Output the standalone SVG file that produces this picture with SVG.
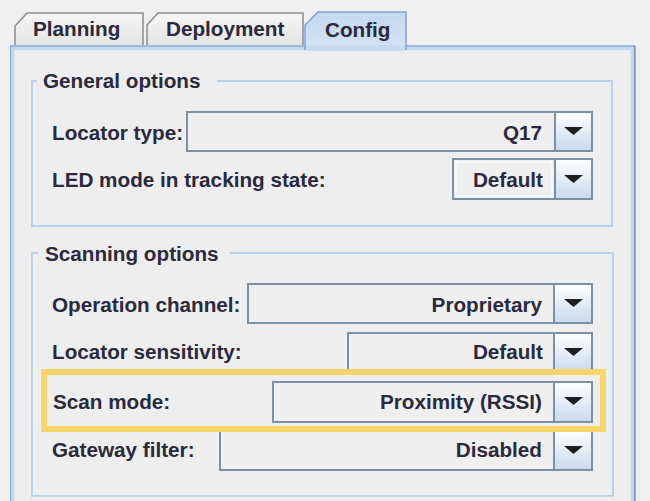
<svg xmlns="http://www.w3.org/2000/svg" width="650" height="501" viewBox="0 0 650 501">
<defs>
<linearGradient id="btn" x1="0" y1="0" x2="0" y2="1"><stop offset="0" stop-color="#ffffff"/><stop offset="1" stop-color="#c9d9ec"/></linearGradient>
<linearGradient id="tabOff" x1="0" y1="0" x2="0" y2="1"><stop offset="0" stop-color="#f6f6f6"/><stop offset="1" stop-color="#e4e4e4"/></linearGradient>
<linearGradient id="tabOn" x1="0" y1="0" x2="0" y2="1"><stop offset="0" stop-color="#c3d8f0"/><stop offset="1" stop-color="#d4e3f4"/></linearGradient>
</defs>
<style>
text{font-family:"Liberation Sans",Arial,sans-serif;font-weight:bold;font-size:20.7px;fill:#2a2a3c}
.val{text-anchor:end}
.field{fill:#efefef;stroke:#7d8fa3;stroke-width:2}
.fieldin{fill:none;stroke:#f8fbff;stroke-width:1.5}
.btn{fill:url(#btn);stroke:#7d8fa3;stroke-width:2}
.tri{fill:#1e1e1e}
.grp{fill:none;stroke:#bcd2ea;stroke-width:2}
.mask{fill:#eeeeee}
.tab{fill:url(#tabOff);stroke:#8c8c8c;stroke-width:1.5}
</style>
<rect width="650" height="501" fill="#f0f0f0"/>

<g id="tab-planning"><path class="tab" d="M15,45 V26 L27,13 H143 V45"/><text x="33" y="36">Planning</text></g>
<g id="tab-deployment"><path class="tab" d="M147,45 V25 L158,13 H303 V45"/><text x="166" y="36">Deployment</text></g>

<g id="panel">
<rect x="10.75" y="46" width="623.5" height="470" fill="#eeeeee" stroke="#86a7d6" stroke-width="1.5"/>
<rect x="13" y="48.5" width="619" height="470" fill="none" stroke="#c6daef" stroke-width="3"/>
<line x1="635" y1="46" x2="635" y2="501" stroke="#8d99a6" stroke-width="1.5"/>
</g>

<g id="tab-config"><path d="M305,50 V25 L318,12 H406 V50" fill="url(#tabOn)" stroke="#7fa3d0" stroke-width="1.5"/><rect x="306" y="45" width="99" height="6" fill="#c8dcf1"/><text x="325" y="37">Config</text></g>

<g id="general-options">
<rect class="grp" x="32" y="81" width="580" height="145"/>
<rect class="mask" x="37" y="74" width="180" height="12"/>
<text x="43" y="88">General options</text>
</g>

<g id="locator-type">
<text x="52" y="140">Locator type:</text>
<rect class="field" x="187" y="112" width="368" height="39"/>
<rect class="btn" x="555" y="112" width="37" height="39"/>
<polygon class="tri" points="564,127 583,127 573.5,135"/>
<text class="val" x="542" y="140">Q17</text>
</g>

<g id="led-mode">
<text x="52" y="187">LED mode in tracking state:</text>
<rect class="field" x="453" y="159" width="102" height="40"/>
<rect class="fieldin" x="456" y="162" width="96" height="34"/>
<rect class="btn" x="555" y="159" width="37" height="40"/>
<polygon class="tri" points="564,175 583,175 573.5,183"/>
<text class="val" x="543" y="187">Default</text>
</g>

<g id="scanning-options">
<rect class="grp" x="32" y="253" width="581" height="243"/>
<rect class="mask" x="38" y="246" width="192" height="12"/>
<text x="45" y="261">Scanning options</text>
</g>

<g id="operation-channel">
<text x="52" y="312">Operation channel:</text>
<rect class="field" x="248" y="284" width="306" height="39"/>
<rect class="btn" x="554" y="284" width="38" height="39"/>
<polygon class="tri" points="564,299 583,299 573.5,307"/>
<text class="val" x="542" y="312">Proprietary</text>
</g>

<g id="locator-sensitivity">
<text x="52" y="359">Locator sensitivity:</text>
<rect class="field" x="348" y="333" width="206" height="40"/>
<rect class="btn" x="554" y="333" width="38" height="40"/>
<polygon class="tri" points="564,348 583,348 573.5,356"/>
<text class="val" x="543" y="359">Default</text>
</g>

<g id="gateway-filter">
<text x="52" y="457">Gateway filter:</text>
<rect class="field" x="220" y="430" width="334" height="40"/>
<rect class="btn" x="554" y="430" width="38" height="40"/>
<polygon class="tri" points="564,446 583,446 573.5,454"/>
<text class="val" x="542" y="457">Disabled</text>
</g>

<g id="scan-mode">
<text x="53" y="409">Scan mode:</text>
<rect class="field" x="273" y="382" width="281" height="40"/>
<rect class="btn" x="554" y="382" width="38" height="40"/>
<polygon class="tri" points="564,397 583,397 573.5,405"/>
<text class="val" x="542" y="409">Proximity (RSSI)</text>
<rect x="44" y="372" width="559" height="57" fill="none" stroke="#f9d66c" stroke-width="6"/>
</g>
</svg>
